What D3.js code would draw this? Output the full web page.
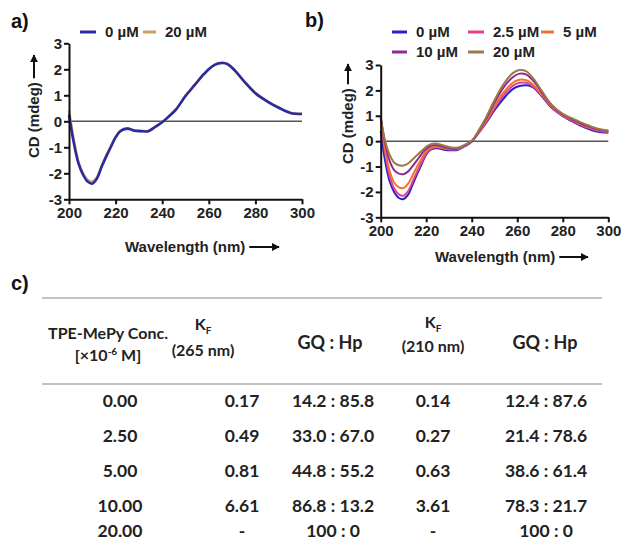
<!DOCTYPE html>
<html>
<head>
<meta charset="utf-8">
<script src="https://cdn.jsdelivr.net/npm/d3@7"></script>
<style>
  body { margin: 0; background: #fff; }
  svg text { font-family: "Liberation Sans", Arial, sans-serif; }
  .tbl text { font-family: Lato, "Open Sans", sans-serif; font-weight: 700; fill: #222; }
</style>
</head>
<body>
<svg id="fig" width="621" height="543"></svg>
<script>
// ---- data ----
var wavelengths = [200, 202, 204, 206, 208, 210, 212, 214, 216, 218, 220, 222, 225, 228, 231, 234, 237, 240,
                   243, 246, 250, 254, 258, 261, 264, 266, 268, 271, 275, 280, 285, 290, 295, 300];

// panel a
var cdA_20 = [0.42, -0.7, -1.55, -2.0, -2.26, -2.32, -2.16, -1.72, -1.32, -0.96, -0.6, -0.37, -0.27, -0.35, -0.37, -0.37,
              -0.21, -0.03, 0.21, 0.47, 0.98, 1.41, 1.83, 2.09, 2.23, 2.25, 2.21, 1.98, 1.56, 1.09, 0.78, 0.53, 0.33, 0.29];
var cdA_0  = [0.25, -0.8, -1.6, -2.05, -2.32, -2.4, -2.2, -1.75, -1.35, -0.98, -0.62, -0.38, -0.28, -0.36, -0.38, -0.38,
              -0.22, -0.04, 0.2, 0.46, 0.97, 1.4, 1.82, 2.08, 2.22, 2.24, 2.2, 1.97, 1.55, 1.08, 0.77, 0.52, 0.32, 0.28];
var labelsA = ["0 µM", "20 µM"];

// panel b
var cdB_0   = [0.4, -0.8, -1.6, -2.02, -2.24, -2.28, -2.12, -1.72, -1.3, -0.9, -0.52, -0.33, -0.28, -0.34, -0.36, -0.34,
               -0.2, -0.02, 0.32, 0.68, 1.22, 1.68, 2.05, 2.17, 2.2, 2.16, 2.05, 1.75, 1.32, 0.98, 0.74, 0.53, 0.38, 0.33];
var cdB_2_5 = [0.9, -0.5, -1.4, -1.88, -2.1, -2.15, -1.98, -1.6, -1.2, -0.82, -0.48, -0.3, -0.24, -0.3, -0.33, -0.3,
               -0.18, 0, 0.34, 0.72, 1.3, 1.8, 2.18, 2.3, 2.3, 2.22, 2.08, 1.78, 1.35, 1.0, 0.77, 0.56, 0.42, 0.36];
var cdB_5   = [1.0, -0.35, -1.2, -1.65, -1.82, -1.85, -1.68, -1.35, -1.0, -0.68, -0.4, -0.26, -0.22, -0.28, -0.32, -0.3,
               -0.17, 0, 0.35, 0.75, 1.38, 1.92, 2.3, 2.42, 2.4, 2.3, 2.13, 1.82, 1.38, 1.02, 0.8, 0.6, 0.45, 0.38];
var cdB_10  = [0.95, -0.1, -0.8, -1.15, -1.28, -1.3, -1.2, -0.98, -0.75, -0.5, -0.3, -0.18, -0.16, -0.24, -0.3, -0.28,
               -0.16, 0, 0.38, 0.82, 1.52, 2.12, 2.52, 2.66, 2.62, 2.48, 2.28, 1.9, 1.42, 1.05, 0.82, 0.62, 0.47, 0.4];
var cdB_20  = [0.9, 0.0, -0.55, -0.85, -0.95, -0.96, -0.88, -0.72, -0.55, -0.38, -0.22, -0.12, -0.1, -0.18, -0.25, -0.25,
               -0.14, 0.02, 0.42, 0.88, 1.62, 2.25, 2.68, 2.8, 2.75, 2.58, 2.36, 1.95, 1.45, 1.08, 0.86, 0.66, 0.5, 0.42];
var labelsB = ["0 µM", "2.5 µM", "5 µM", "10 µM", "20 µM"];

var xTicks = [200, 220, 240, 260, 280, 300];
var yTicks = [-3, -2, -1, 0, 1, 2, 3];

// table c
var concentrations = ["0.00", "2.50", "5.00", "10.00", "20.00"];
var kf265   = ["0.17", "0.49", "0.81", "6.61", "-"];
var ratio265 = ["14.2 : 85.8", "33.0 : 67.0", "44.8 : 55.2", "86.8 : 13.2", "100 : 0"];
var kf210   = ["0.14", "0.27", "0.63", "3.61", "-"];
var ratio210 = ["12.4 : 87.6", "21.4 : 78.6", "38.6 : 61.4", "78.3 : 21.7", "100 : 0"];

var svg = d3.select("#fig");

// arrow head marker
svg.append("defs").append("marker")
    .attr("id", "arr").attr("viewBox", "0 0 10 10")
    .attr("refX", 9).attr("refY", 5)
    .attr("markerWidth", 4).attr("markerHeight", 4)
    .attr("orient", "auto")
  .append("path").attr("d", "M0,0L10,5L0,10Z").attr("fill", "#111");

function drawPanel(opt) {
    var x = d3.scaleLinear().domain([200, 300]).range(opt.xr);
    var y = d3.scaleLinear().domain([-3, 3]).range(opt.yr);
    var g = svg.append("g");

    // zero line
    g.append("line").attr("x1", x(200)).attr("x2", x(300)).attr("y1", y(0)).attr("y2", y(0))
        .attr("stroke", "#555").attr("stroke-width", 1.5);

    var line = d3.line().x(function(d, i){ return x(wavelengths[i]); }).y(function(d){ return y(d); })
        .curve(d3.curveCatmullRom);
    opt.series.forEach(function(s){
        g.append("path").datum(s.values).attr("d", line)
            .attr("fill", "none").attr("stroke", s.color).attr("stroke-width", opt.lw)
            .attr("stroke-linejoin", "round");
    });

    var xa = g.append("g").attr("transform", "translate(0," + opt.yr[0] + ")")
        .call(d3.axisBottom(x).tickValues(xTicks).tickFormat(d3.format("d"))
              .tickSize(5).tickPadding(3).tickSizeOuter(0));
    var ya = g.append("g").attr("transform", "translate(" + opt.xr[0] + ",0)")
        .call(d3.axisLeft(y).tickValues(yTicks).tickFormat(d3.format("d"))
              .tickSize(5).tickPadding(2).tickSizeOuter(0));
    [xa, ya].forEach(function(a){
        a.select(".domain").attr("stroke", "#111").attr("stroke-width", 2);
        a.selectAll(".tick line").attr("stroke", "#111").attr("stroke-width", 2);
        a.selectAll(".tick text").attr("fill", "#222").style("font-size", "15px").style("font-weight", "bold")
            .style("font-family", "'Liberation Sans', Arial, sans-serif");
    });
    // minus sign as plain hyphen like the figure
    ya.selectAll(".tick text").text(function(d){ return String(d); });

    // axis titles with arrows
    var xt = g.append("text").attr("x", opt.xTitle[0]).attr("y", opt.xTitle[1])
        .attr("font-size", 15).attr("font-weight", "bold").attr("fill", "#222").text("Wavelength (nm)");
    var xw = xt.node().getComputedTextLength();
    g.append("line").attr("x1", opt.xTitle[0] + xw + 4).attr("x2", opt.xArrowEnd)
        .attr("y1", opt.xTitle[1] - 5).attr("y2", opt.xTitle[1] - 5)
        .attr("stroke", "#111").attr("stroke-width", 2).attr("marker-end", "url(#arr)");

    var yt = g.append("text").attr("transform", "translate(" + opt.yTitle[0] + "," + opt.yTitle[1] + ") rotate(-90)")
        .attr("font-size", 15).attr("font-weight", "bold").attr("fill", "#222").text("CD (mdeg)");
    var yw = yt.node().getComputedTextLength();
    g.append("line").attr("x1", opt.yTitle[0] - 5).attr("x2", opt.yTitle[0] - 5)
        .attr("y1", opt.yTitle[1] - yw - 4).attr("y2", opt.yArrowEnd)
        .attr("stroke", "#111").attr("stroke-width", 2).attr("marker-end", "url(#arr)");

    // panel letter
    g.append("text").attr("x", opt.letter[0]).attr("y", opt.letter[1]).attr("font-size", 20)
        .attr("font-weight", "bold").attr("fill", "#111").text(opt.letter[2]);

    // legend
    opt.legend.forEach(function(l){
        g.append("line").attr("x1", l.x).attr("x2", l.x + l.len).attr("y1", l.y).attr("y2", l.y)
            .attr("stroke", l.color).attr("stroke-width", 3);
        g.append("text").attr("x", l.x + l.len + 9).attr("y", l.y + 5).attr("font-size", 15)
            .attr("font-weight", "bold").attr("fill", "#222").text(l.label);
    });
}

var colA = ["#2b2ba0", "#c9a264"];
drawPanel({
    xr: [69, 302], yr: [199.3, 43.3], lw: 2.6,
    series: [{values: cdA_20, color: colA[1]}, {values: cdA_0, color: colA[0]}],
    xTitle: [125, 252], xArrowEnd: 279,
    yTitle: [39, 158], yArrowEnd: 55,
    letter: [11, 28, "a)"],
    legend: [
        {x: 80, y: 32, len: 16, color: colA[0], label: labelsA[0]},
        {x: 143, y: 32, len: 13, color: colA[1], label: labelsA[1]}
    ]
});

var colB = ["#2222d4", "#e6408a", "#f2722c", "#8e2a90", "#9a7a48"];
drawPanel({
    xr: [380.7, 608.3], yr: [217.3, 65], lw: 2,
    series: [
        {values: cdB_0, color: colB[0]},
        {values: cdB_2_5, color: colB[1]},
        {values: cdB_5, color: colB[2]},
        {values: cdB_10, color: colB[3]},
        {values: cdB_20, color: colB[4]}
    ],
    xTitle: [435, 262], xArrowEnd: 588,
    yTitle: [353, 164], yArrowEnd: 64,
    letter: [305, 27, "b)"],
    legend: [
        {x: 392, y: 32, len: 15, color: colB[0], label: labelsB[0]},
        {x: 468, y: 32, len: 16, color: colB[1], label: labelsB[1]},
        {x: 541, y: 32, len: 13, color: colB[2], label: labelsB[2]},
        {x: 392, y: 52, len: 15, color: colB[3], label: labelsB[3]},
        {x: 468, y: 52, len: 16, color: colB[4], label: labelsB[4]}
    ]
});

// ---- table c ----
svg.append("text").attr("x", 11).attr("y", 290).attr("font-size", 20).attr("font-weight", "bold")
    .attr("fill", "#111").text("c)");

var tbl = svg.append("g").attr("class", "tbl");
[298, 384].forEach(function(yy){
    tbl.append("line").attr("x1", 42).attr("x2", 602).attr("y1", yy).attr("y2", yy)
        .attr("stroke", "#888").attr("stroke-width", 1.2);
});

// header
tbl.append("text").attr("x", 108).attr("y", 339).attr("text-anchor", "middle").attr("font-size", 16)
    .text("TPE-MePy Conc.");
var h2 = tbl.append("text").attr("x", 108).attr("y", 361).attr("text-anchor", "middle").attr("font-size", 16);
h2.append("tspan").text("[×10");
h2.append("tspan").attr("dy", -6).attr("font-size", 10).text("-6");
h2.append("tspan").attr("dy", 6).text("  M]");

function kfHeader(cx, yK, yNm, nm) {
    var t = tbl.append("text").attr("x", cx).attr("y", yK).attr("text-anchor", "middle").attr("font-size", 16);
    t.append("tspan").text("K");
    t.append("tspan").attr("dy", 4).attr("font-size", 10).text("F");
    tbl.append("text").attr("x", cx).attr("y", yNm).attr("text-anchor", "middle").attr("font-size", 16)
        .text("(" + nm + " nm)");
}
kfHeader(203, 330, 356, 265);
kfHeader(433, 328, 352, 210);
tbl.append("text").attr("x", 330).attr("y", 349).attr("text-anchor", "middle").attr("font-size", 18).text("GQ : Hp");
tbl.append("text").attr("x", 545).attr("y", 349).attr("text-anchor", "middle").attr("font-size", 18).text("GQ : Hp");

// row centres (last row sits tight against the bottom edge)
var rowCenters = [401, 436, 471, 506, 531];
var cols = [
    {cx: 120, vals: concentrations},
    {cx: 242, vals: kf265},
    {cx: 333, vals: ratio265},
    {cx: 433, vals: kf210},
    {cx: 546, vals: ratio210}
];
cols.forEach(function(c){
    tbl.selectAll(null).data(c.vals).enter().append("text")
        .attr("x", c.cx)
        .attr("y", function(d, i){ return rowCenters[i] + 6; })
        .attr("text-anchor", "middle").attr("font-size", 17.5)
        .text(function(d){ return d; });
});
</script>
</body>
</html>
